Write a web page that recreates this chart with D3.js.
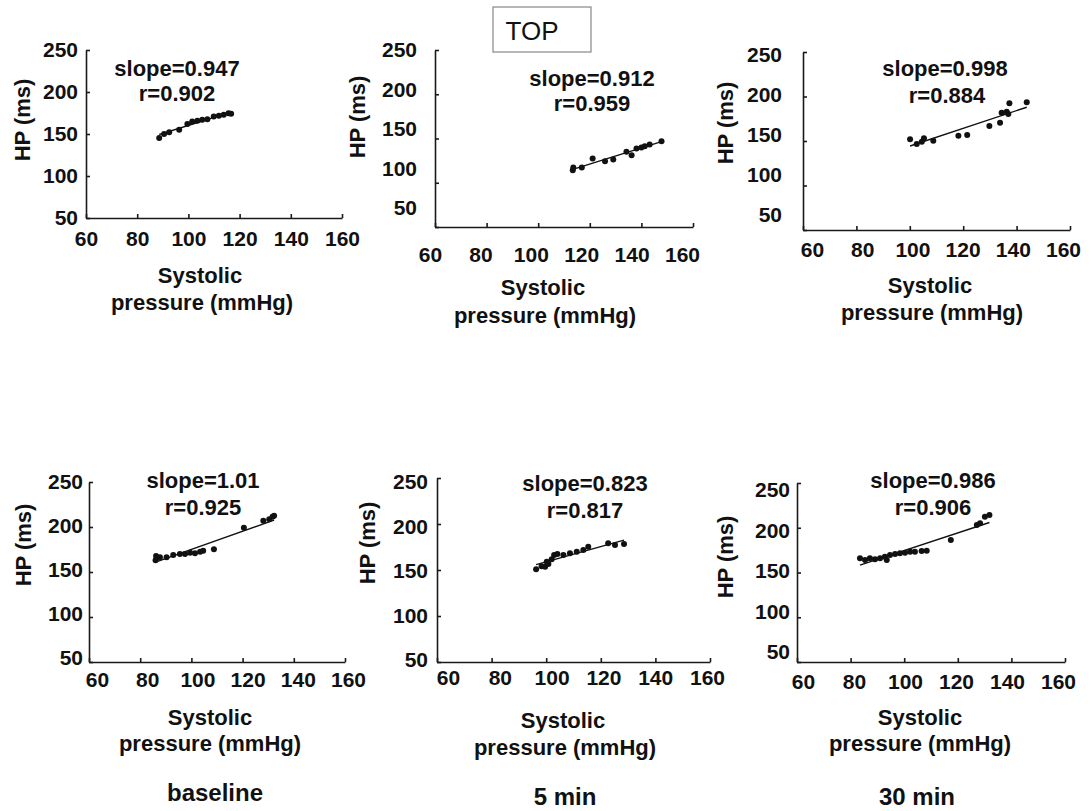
<!DOCTYPE html>
<html>
<head>
<meta charset="utf-8">
<script src="https://cdn.jsdelivr.net/npm/d3@7"></script>
<style>
  body { margin: 0; background: #fff; }
  text { font-family: "Liberation Sans", Arial, sans-serif; }
</style>
</head>
<body>
<script>
// axis ticks shared by all six panels
const xTicks = [60, 80, 100, 120, 140, 160];
const yTicks = [50, 100, 150, 200, 250];

// regression annotations
const slopeLabels = ["0.947", "0.912", "0.998", "1.01", "0.823", "0.986"];
const rLabels = ["0.902", "0.959", "0.884", "0.925", "0.817", "0.906"];
const captions = ["baseline", "5 min", "30 min"];

// [systolic pressure, HP] per panel
const topA = [[88.6,145.3],[90.5,150],[92.5,152],[96.4,155],[99.6,162],[101.5,165],[103.5,165.7],
  [105.4,167],[107.4,167.7],[109.9,170.8],[111.9,171.6],[113.8,172.8],[115.7,174.8],[116.7,174]];
const topB = [[113.4,114.2],[113.6,117.2],[116.9,117.2],[121.1,127.4],[125.9,124.4],[129.1,126.3],
  [134.2,134.9],[136.2,131.1],[138.1,138.7],[140,139.8],[141.3,141.3],[143.2,143.2],[147.8,147]];
const topC = [[100.1,151.9],[102.6,146.6],[104.5,149.2],[105.3,153],[108.8,150.3],[118.2,156],
  [121.5,156.7],[129.8,166.9],[133.8,170.6],[134.4,181.8],[136.3,183],[136.9,180.3],[137.3,192.4],[143.8,193.5]];
const baseA = [[86,163],[86.2,167.8],[87.7,166.3],[90.3,166.3],[92.9,168.9],[95.5,170],[97.5,170],
  [99.5,171.4],[101.4,170.7],[103.4,172.6],[104.6,173.7],[108.8,175.2],[120.5,199.2],[128.1,207],
  [130.4,208.5],[131.7,211.4],[132.3,212.6]];
const fiveB = [[96.3,150.8],[98.3,154],[99.6,153.6],[100.2,159],[100.8,156.5],[102,161.6],[102.9,166.3],
  [104.1,167.4],[106.3,166.3],[108.7,168.1],[111.2,169.9],[113.6,171.7],[115.4,175.3],[122.7,179],
  [125.2,177.2],[128.5,178.3]];
const thirtyC = [[83.5,165.9],[85.4,164],[87.2,165.9],[89.1,164.7],[91,165.9],[92.8,167.7],[93.5,164],
  [94.7,169.6],[96.6,170.7],[98.4,171.5],[100.3,172.2],[102.2,173.3],[104,173.3],[106.5,174],
  [108.4,174.4],[117.4,186.3],[127.1,203.1],[128.3,205],[130.1,212.3],[131.8,214.2]];

const panelData = [topA, topB, topC, baseA, fiveB, thirtyC];

// pixel layout of each panel (axis frame, label offsets, text positions)
const frames = [
  {x0:86, x1:342, y0:50, y1:218, xl:[86,342], yl:[218,50], xpad:14, ypad:8,
   slope:[177,68], r:[177,93], yt:[22,120], sys:[200,275], pre:[202,302]},
  {x0:435, x1:693, y0:50, y1:227, xl:[430,682], yl:[208,50], xpad:21, ypad:18,
   slope:[592,78], r:[592,103], yt:[357,117], sys:[543,287], pre:[545,315]},
  {x0:803, x1:1070, y0:52, y1:230, xl:[812,1063], yl:[215,55], xpad:13, ypad:21,
   slope:[945,68], r:[947,95], yt:[725,123], sys:[930,285], pre:[932,312]},
  {x0:89, x1:345, y0:482, y1:662, xl:[97,348], yl:[658,482], xpad:11, ypad:6,
   slope:[203,480], r:[203,507], yt:[23,545], sys:[210,717], pre:[210,743]},
  {x0:437, x1:710, y0:478, y1:662, xl:[448,707], yl:[660,482], xpad:9, ypad:9,
   slope:[585,483], r:[585,510], yt:[367,543], sys:[563,720], pre:[565,747]},
  {x0:797, x1:1065, y0:483, y1:662, xl:[803,1058], yl:[652,490], xpad:13, ypad:7,
   slope:[933,480], r:[933,507], yt:[725,557], sys:[920,717], pre:[920,743]}
];
const captionPos = [[215,793], [565,797], [917,797]];

const svg = d3.select("body").append("svg")
    .attr("width", 1091)
    .attr("height", 811);

function styleLabels(sel) {
  sel.select(".domain").remove();
  sel.attr("font-size", 21)
     .attr("font-family", "Liberation Sans, Arial, sans-serif")
     .attr("font-weight", "bold")
     .selectAll("text").attr("fill", "#111");
}

panelData.forEach(function(pts, i) {
  const f = frames[i];
  const g = svg.append("g");

  const x = d3.scaleLinear().domain([60, 160]).range([f.x0, f.x1]);
  const y = d3.scaleLinear().domain([50, 250]).range([f.y1, f.y0]);
  // the printed labels sit slightly off their ticks in the original
  const xl = d3.scaleLinear().domain([60, 160]).range(f.xl);
  const yl = d3.scaleLinear().domain([50, 250]).range(f.yl);

  // axis lines with small inward ticks
  g.append("g")
      .attr("transform", `translate(0,${f.y1})`)
      .call(d3.axisBottom(x).tickValues(xTicks).tickSizeInner(-4).tickSizeOuter(0).tickFormat(""))
      .call(a => a.selectAll("path,line").attr("stroke", "#1a1a1a").attr("stroke-width", 1.6));
  g.append("g")
      .attr("transform", `translate(${f.x0},0)`)
      .call(d3.axisLeft(y).tickValues(yTicks).tickSizeInner(-4).tickSizeOuter(0).tickFormat(""))
      .call(a => a.selectAll("path,line").attr("stroke", "#1a1a1a").attr("stroke-width", 1.6));

  // tick labels
  g.append("g")
      .attr("transform", `translate(0,${f.y1})`)
      .call(d3.axisBottom(xl).tickValues(xTicks).tickSize(0).tickPadding(f.xpad - 1))
      .call(styleLabels);
  g.append("g")
      .attr("transform", `translate(${f.x0},0)`)
      .call(d3.axisLeft(yl).tickValues(yTicks).tickSize(0).tickPadding(f.ypad))
      .call(styleLabels);

  // fitted line: reported slope through the mean of the points
  const slope = +slopeLabels[i];
  const mx = d3.mean(pts, d => d[0]);
  const my = d3.mean(pts, d => d[1]);
  const ext = d3.extent(pts, d => d[0]);
  g.append("path")
      .datum(ext.map(v => [v, my + slope * (v - mx)]))
      .attr("fill", "none")
      .attr("stroke", "#111")
      .attr("stroke-width", 1.4)
      .attr("d", d3.line().x(d => x(d[0])).y(d => y(d[1])));

  // dots
  g.append("g")
    .selectAll("circle")
    .data(pts)
    .join("circle")
      .attr("cx", d => x(d[0]))
      .attr("cy", d => y(d[1]))
      .attr("r", 3)
      .attr("fill", "#111");

  // annotations and titles
  const txt = (pos, s, size) => g.append("text")
      .attr("x", pos[0]).attr("y", pos[1])
      .attr("dy", "0.35em")
      .attr("text-anchor", "middle")
      .attr("font-size", size)
      .attr("font-weight", "bold")
      .attr("fill", "#111")
      .text(s);
  txt(f.slope, "slope=" + slopeLabels[i], 22);
  txt(f.r, "r=" + rLabels[i], 22);
  txt(f.sys, "Systolic", 22);
  txt(f.pre, "pressure (mmHg)", 22);

  g.append("text")
      .attr("transform", `translate(${f.yt[0]},${f.yt[1]}) rotate(-90)`)
      .attr("dy", "0.35em")
      .attr("text-anchor", "middle")
      .attr("font-size", 22)
      .attr("font-weight", "bold")
      .attr("fill", "#111")
      .text("HP (ms)");
});

// TOP box
svg.append("rect")
    .attr("x", 493).attr("y", 7)
    .attr("width", 98).attr("height", 45)
    .attr("fill", "#fff")
    .attr("stroke", "#888")
    .attr("stroke-width", 1.2);
svg.append("text")
    .attr("x", 532).attr("y", 31)
    .attr("dy", "0.35em")
    .attr("text-anchor", "middle")
    .attr("font-size", 26)
    .attr("fill", "#111")
    .text("TOP");

// column captions
svg.selectAll("text.caption")
  .data(captions)
  .join("text")
    .attr("class", "caption")
    .attr("x", (d, i) => captionPos[i][0])
    .attr("y", (d, i) => captionPos[i][1])
    .attr("dy", "0.35em")
    .attr("text-anchor", "middle")
    .attr("font-size", 24)
    .attr("font-weight", "bold")
    .attr("fill", "#111")
    .text(d => d);
</script>
</body>
</html>
